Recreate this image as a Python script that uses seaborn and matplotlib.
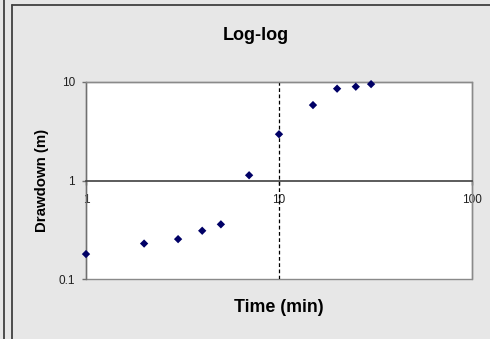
import matplotlib
matplotlib.use("Agg")
import matplotlib.pyplot as plt
from matplotlib.lines import Line2D
from matplotlib.patches import Rectangle
import seaborn as sns
import pandas as pd

# Data
time_min = [1, 2, 3, 4, 5, 7, 10, 15, 20, 25, 30]
drawdown_m = [0.18, 0.23, 0.255, 0.31, 0.36, 1.13, 2.94, 5.8, 8.5, 8.9, 9.45]
x_ticks = [1, 10, 100]
x_tick_labels = ["1", "10", "100"]
y_ticks = [0.1, 1, 10]
y_tick_labels = ["0.1", "1", "10"]
title = "Log-log"
x_label = "Time (min)"
y_label = "Drawdown (m)"

df = pd.DataFrame({"time": time_min, "drawdown": drawdown_m})

sns.set_style("white")
plt.rcParams["font.family"] = ["Liberation Sans", "DejaVu Sans"]

bg = "#e7e7e7"
fig = plt.figure(figsize=(4.9, 3.39), dpi=100, facecolor=bg)
ax = fig.add_axes([86 / 490, 1 - 279.3 / 339, (472 - 86) / 490, (279.3 - 81.7) / 339])
ax.set_facecolor("white")

sns.scatterplot(data=df, x="time", y="drawdown", marker="D", color="#000066",
                s=18, edgecolor="none", linewidth=0, ax=ax, zorder=5, clip_on=False)

ax.set_xscale("log")
ax.set_yscale("log")
ax.set_xlim(1, 100)
ax.set_ylim(0.1, 10)
ax.set_xticks(x_ticks)
ax.set_xticklabels(x_tick_labels)
ax.set_yticks(y_ticks)
ax.set_yticklabels(y_tick_labels)
ax.minorticks_off()
ax.set_xlabel("")
ax.set_ylabel("")

# vertical dashed gridline at 10
ax.axvline(10, color="#000000", linestyle=(0, (3, 2)), linewidth=0.9, zorder=2)

# spines: border gray, x-axis crosses at y=1
for side in ["top", "right"]:
    ax.spines[side].set_visible(True)
    ax.spines[side].set_color("#8a8a8a")
    ax.spines[side].set_linewidth(1.0)
ax.spines["left"].set_color("#707070")
ax.spines["left"].set_linewidth(1.0)
ax.spines["bottom"].set_position(("data", 1))
ax.spines["bottom"].set_color("#404040")
ax.spines["bottom"].set_linewidth(1.2)
ax.spines["bottom"].set_zorder(3)
ax.add_patch(Rectangle((0, 0), 1, 1, transform=ax.transAxes, fill=False,
                       edgecolor="#8a8a8a", linewidth=1.0, clip_on=False, zorder=1))

ax.tick_params(axis="x", direction="out", length=3, width=1, color="#404040",
               labelsize=8.5, labelcolor="#202020", pad=7, bottom=True)
ax.tick_params(axis="y", direction="out", length=3, width=1, color="#707070",
               labelsize=8.5, labelcolor="#202020", pad=5, left=True)

# titles
fig.text(256 / 490, 1 - 35 / 339, title, ha="center", va="center",
         fontsize=13, fontweight="bold", color="#000000")
fig.text(279 / 490, 1 - 308 / 339, x_label, ha="center", va="center",
         fontsize=12.8, fontweight="bold", color="#000000")
fig.text(41.7 / 490, 1 - 180 / 339, y_label, ha="center", va="center",
         fontsize=10.8, fontweight="bold", rotation=90, color="#000000")

# chart frame lines (cropped window look)
fig.add_artist(Line2D([3.5 / 490, 3.5 / 490], [0, 1], transform=fig.transFigure,
                      color="#404040", linewidth=1.3))
fig.add_artist(Line2D([11.5 / 490, 11.5 / 490], [0, 1 - 5 / 339], transform=fig.transFigure,
                      color="#404040", linewidth=1.3))
fig.add_artist(Line2D([11.5 / 490, 1], [1 - 5 / 339, 1 - 5 / 339], transform=fig.transFigure,
                      color="#404040", linewidth=1.3))

fig.savefig("out.png", dpi=100, facecolor=bg)
